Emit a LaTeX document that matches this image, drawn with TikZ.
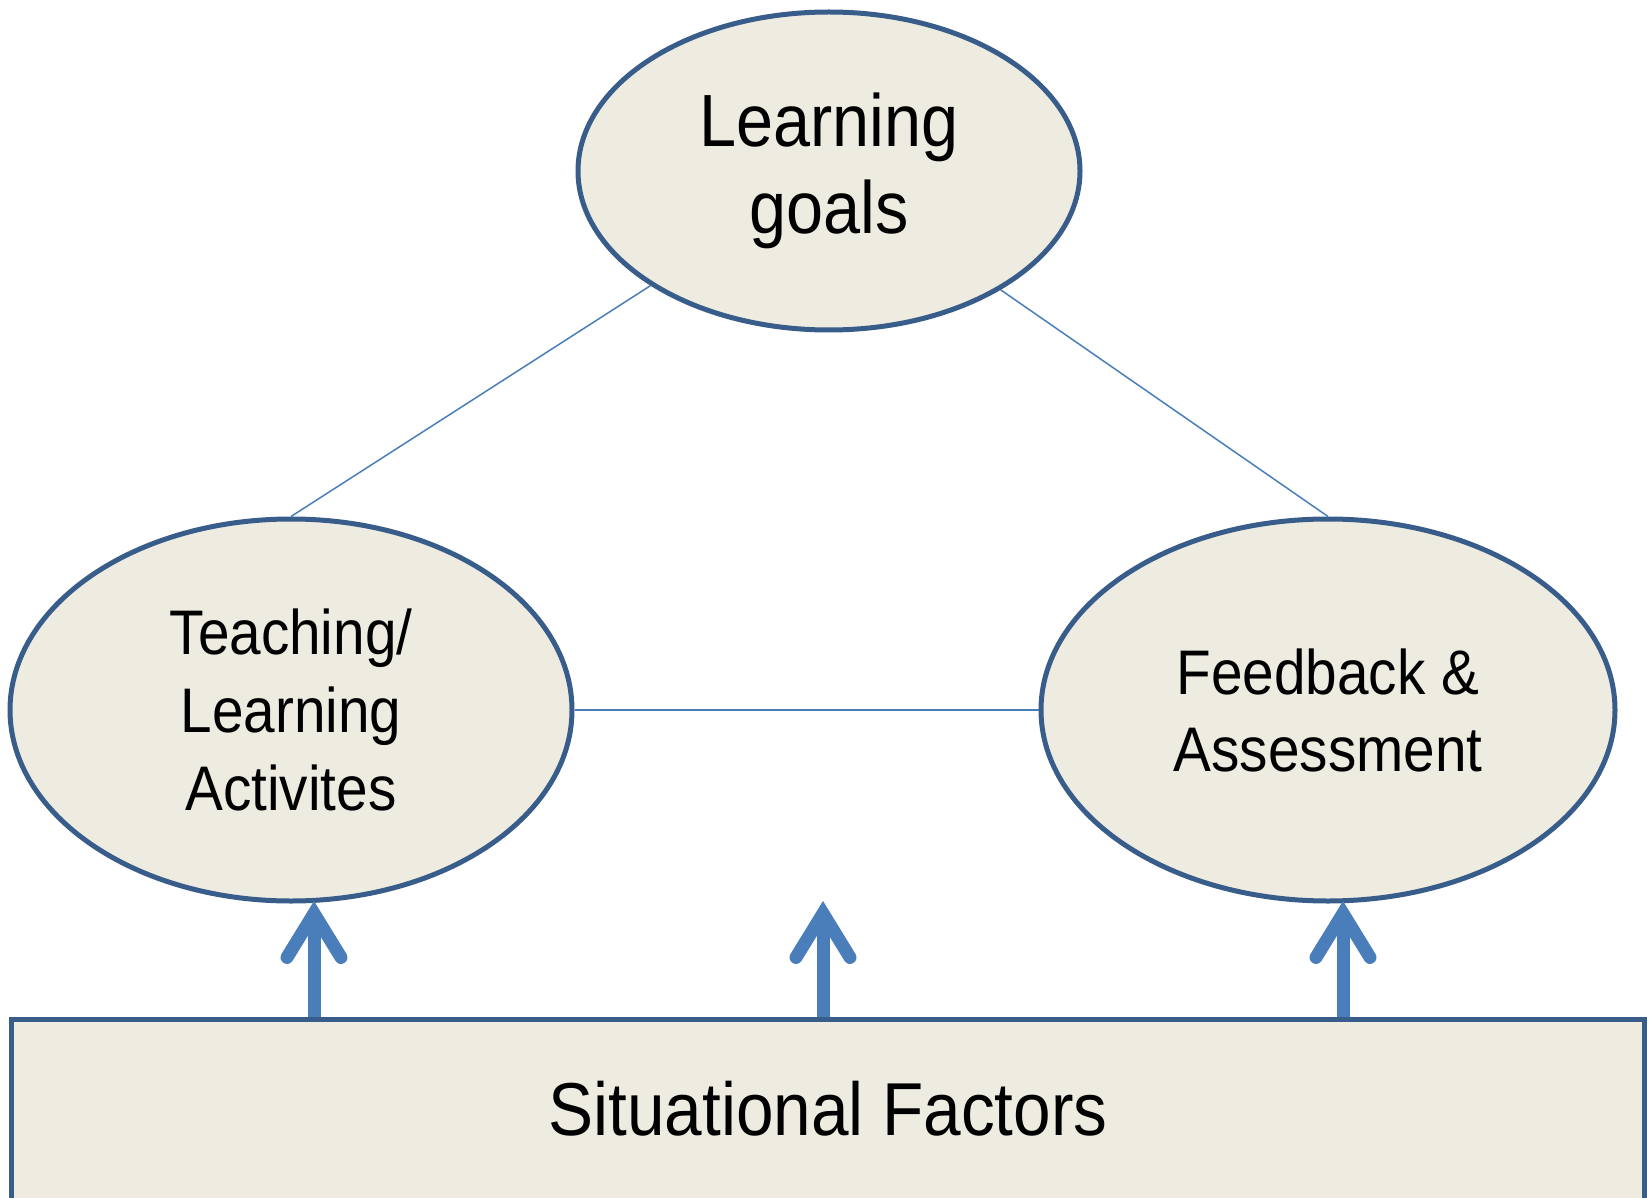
\documentclass[tikz,border=0pt]{standalone}
\usepackage{fontspec}
\setmainfont{Liberation Sans}[FakeStretch=0.9]
\usetikzlibrary{shapes.geometric,arrows.meta}
\definecolor{rimblue}{HTML}{385D8A}
\definecolor{linkblue}{HTML}{4A7EBB}
\definecolor{paper}{HTML}{EEECE1}

\begin{document}
\begin{tikzpicture}[x=1pt,y=-1pt,
    goal/.style={ellipse,draw=rimblue,fill=paper,line width=5pt,inner sep=0pt,align=center},
    link/.style={draw=linkblue,line width=1.5pt},
    lift/.style={draw=linkblue,line width=13pt,-{Straight Barb[length=44pt,width=54pt,line cap=round]}}]
     \useasboundingbox (0,0) rectangle (1652,1198);
     \clip (0,0) rectangle (1652,1198);
     % the three ellipses
     \node[goal,minimum width=502pt,minimum height=318pt,font=\fontsize{74}{87}\selectfont] (lg) at (829,171)
          {\raisebox{-6pt}{Learning}\\\raisebox{-6pt}{goals}};
     \node[goal,minimum width=562pt,minimum height=382pt,font=\fontsize{63}{78}\selectfont] (tl) at (291,710)
          {Teaching/\\Learning\\Activites};
     \node[goal,minimum width=574pt,minimum height=382pt,font=\fontsize{63}{77}\selectfont] (fa) at (1328,710)
          {Feedback \&\\Assessment};
     % box at the bottom, runs off the page
     \node[draw=rimblue,fill=paper,line width=5pt,rectangle,minimum width=1633pt,minimum height=220pt] (sf) at (827.5,1129) {};
     \node[font=\fontsize{75}{88}\selectfont] (sft) at (828,1109) {Situational Factors};
     % thin links
     \draw[link] (lg) -- (tl.north);
     \draw[link] (lg) -- (fa.north);
     \draw[link] (tl.east) -- (fa.west);
     % arrows up from the box
     \coordinate (a1) at (314,901);
     \coordinate (a2) at (823,901);
     \coordinate (a3) at (1343,901);
     \draw[lift] (a1 |- sf.north) -- (a1);
     \draw[lift] (a2 |- sf.north) -- (a2);
     \draw[lift] (a3 |- sf.north) -- (a3);
\end{tikzpicture}
\end{document}
